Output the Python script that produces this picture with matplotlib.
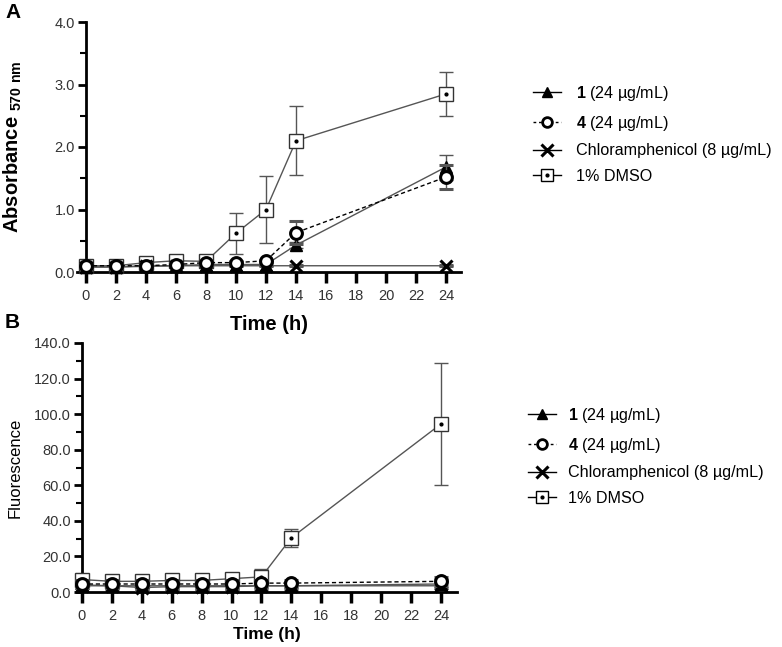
import matplotlib
matplotlib.use("Agg")
import matplotlib.pyplot as plt
from matplotlib.legend_handler import HandlerTuple
from matplotlib.lines import Line2D
from matplotlib.ticker import MultipleLocator, FormatStrFormatter

plt.rcParams['font.family'] = ['Liberation Sans', 'DejaVu Sans']
plt.rcParams['mathtext.fontset'] = 'custom'
plt.rcParams['mathtext.rm'] = 'Liberation Sans'
plt.rcParams['mathtext.bf'] = 'Liberation Sans:bold'

time = [0, 2, 4, 6, 8, 10, 12, 14, 24]
xticks = list(range(0, 25, 2))

# Panel A: absorbance 570 nm
absA_1 = [0.08, 0.08, 0.10, 0.10, 0.12, 0.12, 0.12, 0.43, 1.68]
errA_1 = [0.02, 0.02, 0.02, 0.02, 0.02, 0.02, 0.02, 0.05, 0.20]
absA_4 = [0.10, 0.10, 0.10, 0.12, 0.15, 0.15, 0.18, 0.63, 1.52]
errA_4 = [0.02, 0.02, 0.02, 0.02, 0.02, 0.02, 0.02, 0.18, 0.19]
absA_chl = [0.08, 0.08, 0.09, 0.10, 0.10, 0.10, 0.10, 0.10, 0.10]
errA_chl = [0.01, 0.01, 0.01, 0.01, 0.01, 0.01, 0.01, 0.01, 0.01]
absA_dmso = [0.10, 0.10, 0.15, 0.18, 0.17, 0.62, 1.00, 2.10, 2.85]
errA_dmso = [0.02, 0.02, 0.03, 0.03, 0.03, 0.33, 0.53, 0.55, 0.35]

# Panel B: fluorescence
flB_1 = [4.0, 3.5, 3.5, 3.5, 3.5, 3.5, 3.5, 3.5, 4.5]
erB_1 = [2.5, 2.5, 2.5, 2.5, 2.5, 2.5, 2.5, 2.5, 3.0]
flB_4 = [4.5, 4.5, 4.5, 4.5, 4.5, 4.5, 5.0, 5.0, 6.0]
erB_4 = [2.0, 2.0, 2.0, 2.0, 2.0, 2.0, 2.0, 2.0, 2.5]
flB_chl = [3.5, 3.5, 2.5, 3.0, 3.0, 3.0, 3.5, 3.5, 3.5]
erB_chl = [1.5, 1.5, 1.5, 1.5, 1.5, 1.5, 1.5, 1.5, 1.5]
flB_dmso = [7.0, 6.0, 6.0, 6.5, 6.5, 7.5, 8.5, 30.5, 94.5]
erB_dmso = [3.0, 2.0, 2.5, 2.5, 3.0, 2.5, 4.5, 5.0, 34.5]

labels = [r'$\mathbf{1}$ (24 µg/mL)', r'$\mathbf{4}$ (24 µg/mL)',
          'Chloramphenicol (8 µg/mL)', '1% DMSO']

W, H = 782, 647
fig = plt.figure(figsize=(W / 100, H / 100), dpi=100)

LINE = '#555555'
ECOL = '#555555'


def px_axes(x0, x1, ytop, ybot):
    return fig.add_axes([x0 / W, 1 - ybot / H, (x1 - x0) / W, (ybot - ytop) / H])


def draw_panel(ax, d1, e1, d4, e4, dc, ec, dd, ed, xlim, ylim, ymajor, yminor):
    common = dict(capsize=4.8, elinewidth=1.0, ecolor=ECOL, capthick=1.0, clip_on=False)
    l1 = ax.errorbar(time, d1, yerr=e1, color=LINE, lw=1.0, marker='^', ms=9,
                     mfc='black', mec='black', zorder=4, **common)
    l4 = ax.errorbar(time, d4, yerr=e4, color='black', lw=1.0, ls=(0, (3, 2)), marker='o', ms=8.5,
                     mfc='white', mec='black', mew=2.2, zorder=5, **common)
    lc = ax.errorbar(time, dc, yerr=ec, color=LINE, lw=1.0, marker='x', ms=9,
                     mec='black', mew=2.2, zorder=4, **common)
    ld = ax.errorbar(time, dd, yerr=ed, color=LINE, lw=1.0, marker='s', ms=10,
                     mfc='white', mec='#333333', mew=1.0, zorder=3, **common)
    ax.plot(time, dd, ls='none', marker='o', ms=2, color='black', zorder=3.5, clip_on=False)
    for l in (l1, l4, lc, ld):
        for art in l.get_children():
            art.set_clip_on(False)
    ax.set_xlim(*xlim)
    ax.set_ylim(*ylim)
    ax.spines['top'].set_visible(False)
    ax.spines['right'].set_visible(False)
    ax.spines['left'].set_position(('data', 0))
    ax.spines['left'].set_linewidth(2.0)
    ax.spines['bottom'].set_linewidth(2.0)
    ax.set_xticks(xticks)
    ax.set_xticklabels([str(t) for t in xticks])
    ax.yaxis.set_major_locator(MultipleLocator(ymajor))
    ax.yaxis.set_minor_locator(MultipleLocator(yminor))
    ax.yaxis.set_major_formatter(FormatStrFormatter('%.1f'))
    ax.tick_params(axis='x', which='major', length=8, width=2.5, direction='out',
                   labelsize=10.5, labelcolor='#333333', pad=4)
    ax.tick_params(axis='y', which='major', length=6, width=2.0, direction='out',
                   labelsize=10.5, labelcolor='#333333', pad=2)
    ax.tick_params(axis='y', which='minor', length=4, width=1.5, direction='out')


def legend_handles():
    h1 = Line2D([], [], color='black', lw=1.0, marker='^', ms=7, mfc='black', mec='black')
    h4 = Line2D([], [], color='black', lw=1.0, ls=(0, (2, 2)), marker='o', ms=7,
                mfc='white', mec='black', mew=2.0)
    hc = Line2D([], [], color='black', lw=1.0, marker='x', ms=8, mec='black', mew=2.2)
    hd = Line2D([], [], color='black', lw=1.0, marker='s', ms=8, mfc='white', mec='black', mew=1.0)
    hdot = Line2D([], [], ls='none', marker='o', ms=2, color='black')
    return [h1, h4, hc, (hd, hdot)]


axA = px_axes(77, 461, 22, 272)
draw_panel(axA, absA_1, errA_1, absA_4, errA_4, absA_chl, errA_chl, absA_dmso, errA_dmso,
           (-0.6, 25.0), (0, 4.0), 1.0, 0.5)
axA.set_xlabel('Time (h)', fontsize=14.5, fontweight='bold', labelpad=9)
axA.set_ylabel(r'Absorbance $_{\mathregular{570\ nm}}$', fontsize=14.5, fontweight='bold', labelpad=22)

axB = px_axes(77, 457, 343, 592)
draw_panel(axB, flB_1, erB_1, flB_4, erB_4, flB_chl, erB_chl, flB_dmso, erB_dmso,
           (-0.33, 25.07), (0, 140), 20, 10)
axB.set_xlabel('Time (h)', fontsize=12.5, fontweight='bold', labelpad=3)
axB.set_ylabel('Fluorescence', fontsize=12, labelpad=8)

fig.text(5 / W, 1 - 13 / H, 'A', fontsize=15, fontweight='bold', va='center', ha='left')
fig.text(5 / W, 1 - 322 / H, 'B', fontsize=15, fontweight='bold', va='center', ha='left')


def add_legend(x_px, ytop_px, textpad):
    return fig.legend(legend_handles(), labels,
                      loc='upper left', bbox_to_anchor=(x_px / W, 1 - ytop_px / H),
                      frameon=False, fontsize=11.6, handlelength=1.75, handletextpad=textpad,
                      labelspacing=0.66, borderaxespad=0, borderpad=0,
                      handler_map={tuple: HandlerTuple(ndivide=1)})


add_legend(533, 84, 0.93)
add_legend(528, 406, 0.75)

fig.savefig('out.png', dpi=100)
